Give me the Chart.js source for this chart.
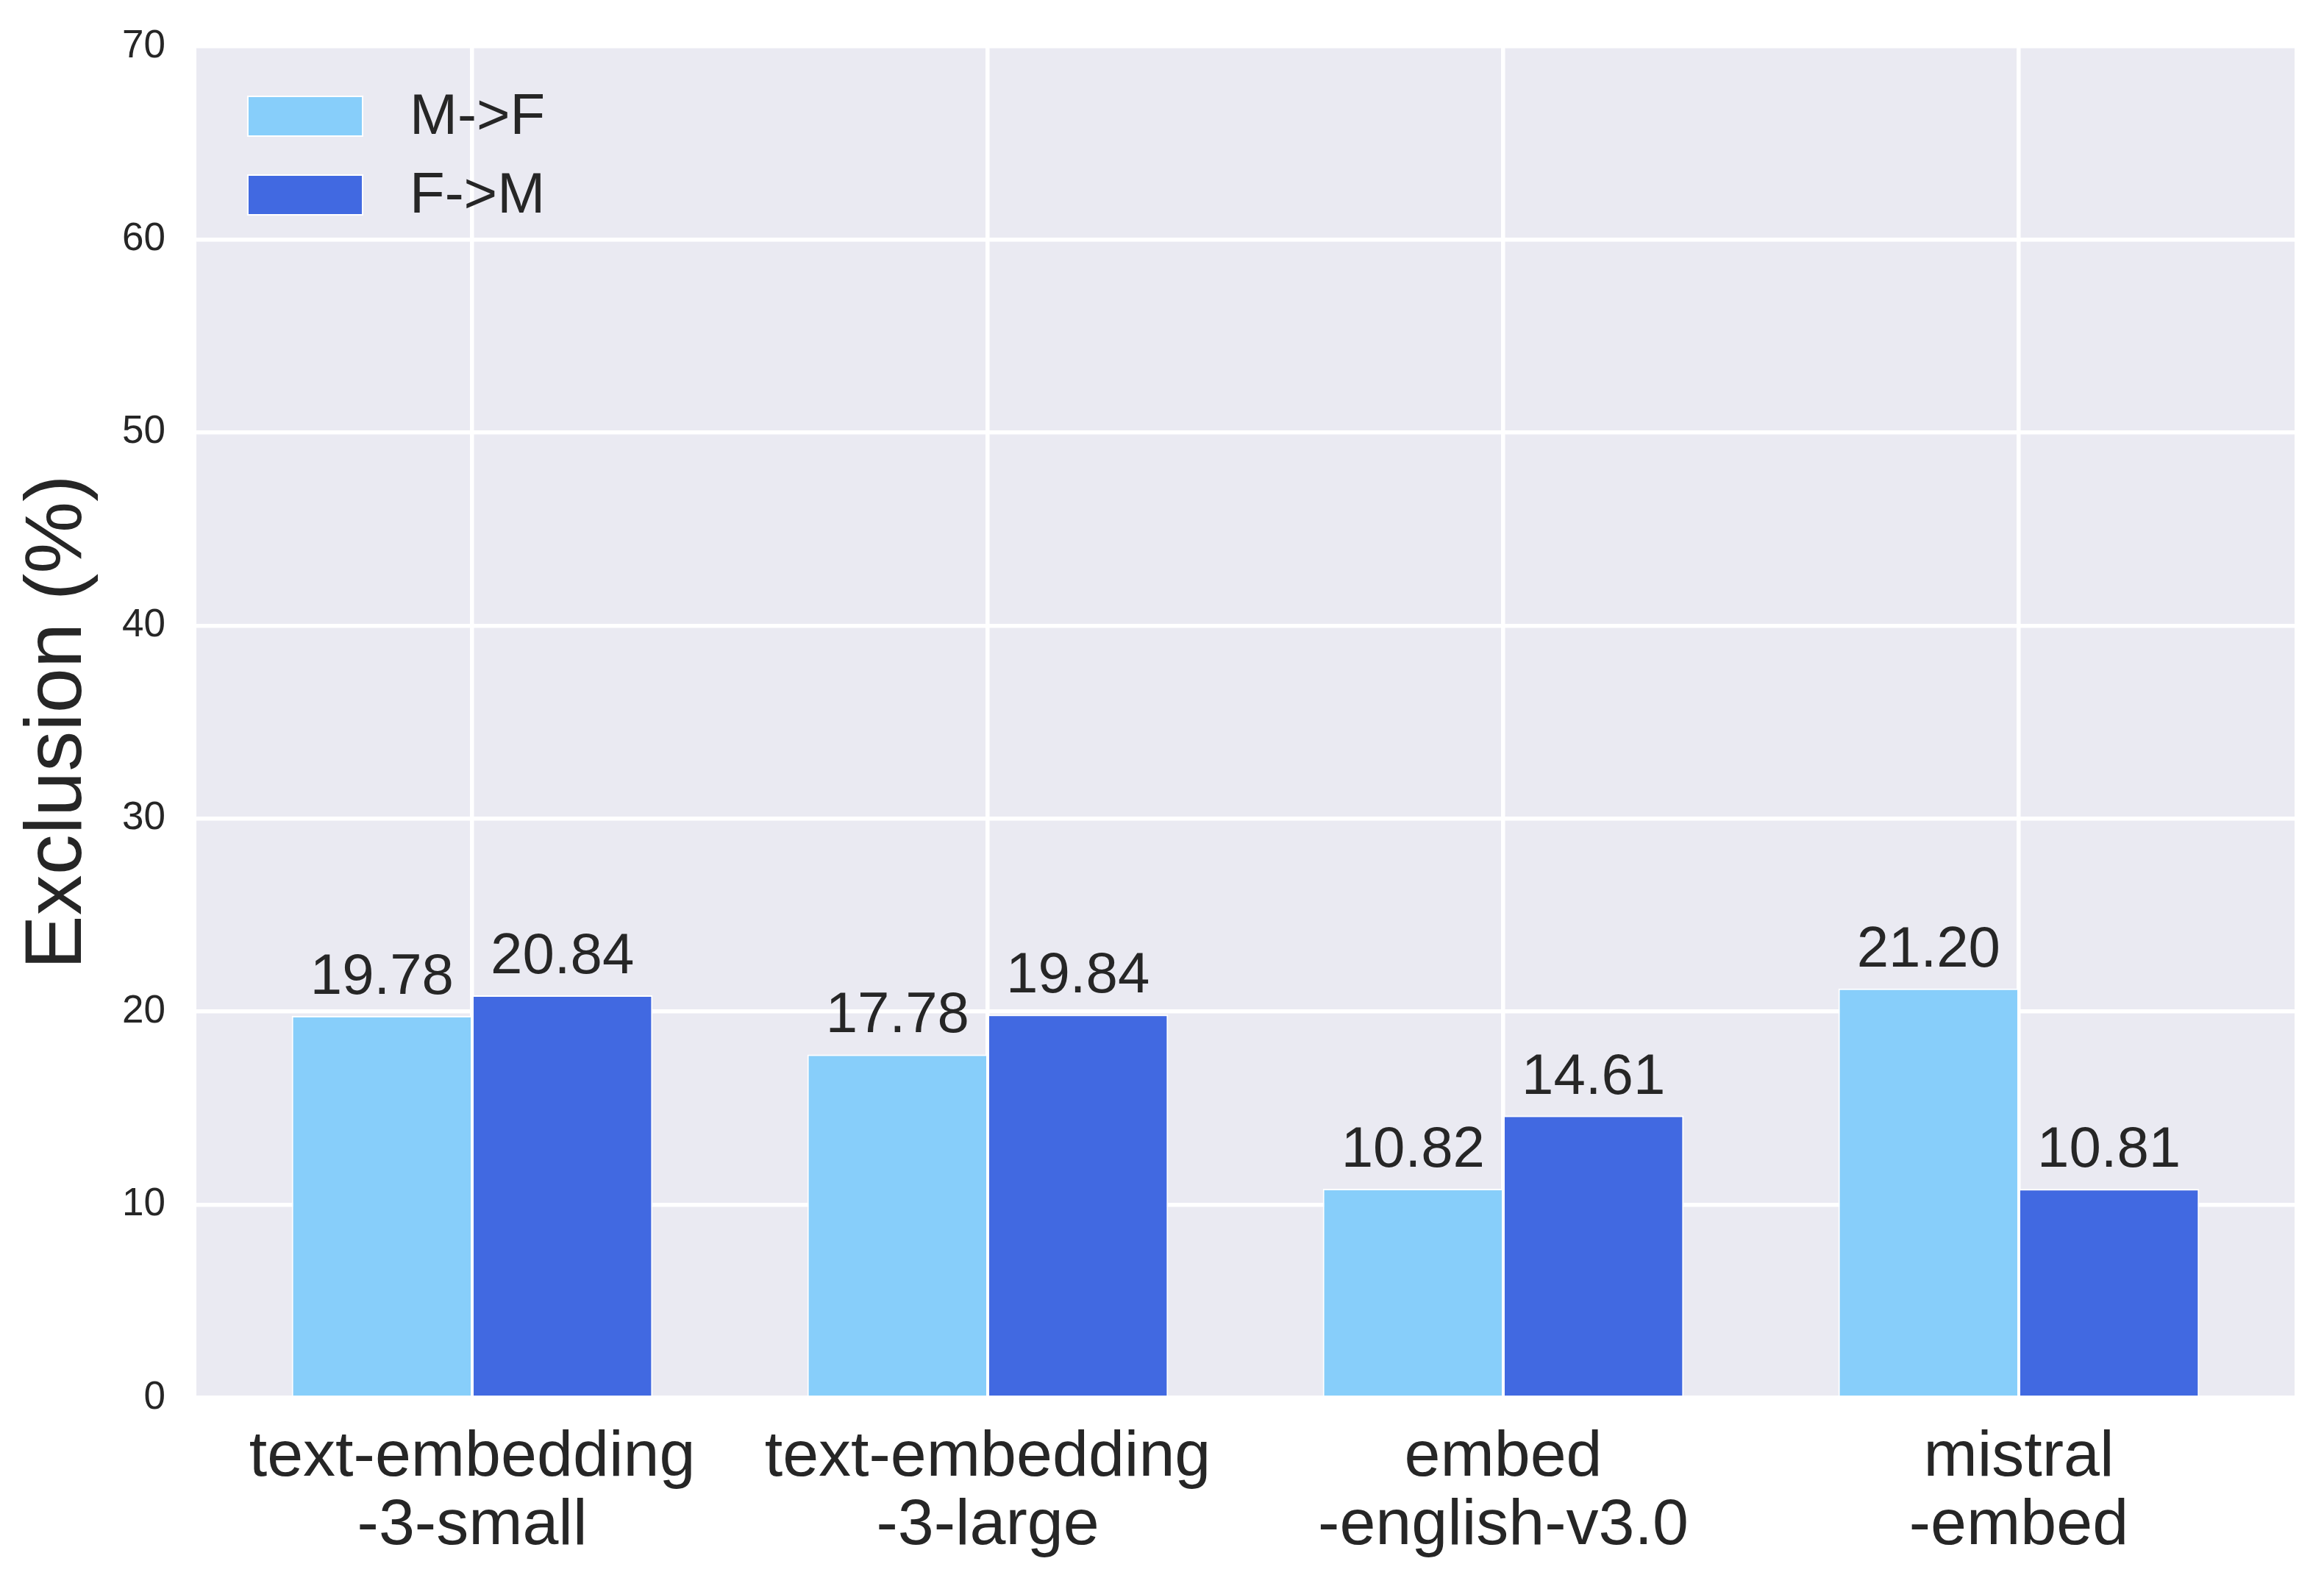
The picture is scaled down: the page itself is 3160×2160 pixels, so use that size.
<!DOCTYPE html>
<html>
<head>
<meta charset="utf-8">
<script src="https://cdn.jsdelivr.net/npm/chart.js@4"></script>
<style>
  html, body { margin: 0; padding: 0; background: #ffffff; }
  #chart { display: block; }
</style>
</head>
<body>
<canvas id="chart" width="3160" height="2160" style="width:3160px;height:2160px"></canvas>
<script>
// values
var models = ['text-embedding\n-3-small', 'text-embedding\n-3-large', 'embed\n-english-v3.0', 'mistral\n-embed'];
var seriesNames = ['M->F', 'F->M'];
var maleToFemale = [19.78, 17.78, 10.82, 21.20];
var femaleToMale = [20.84, 19.84, 14.61, 10.81];
var yTicks = [0, 10, 20, 30, 40, 50, 60, 70];

var lightBlue = '#87CEFA';
var royalBlue = '#4169E1';
var ink = '#262626';
var font = '"Liberation Sans", Arial, sans-serif';

function toPoints(values) {
    return values.map(function(v, i) { return { x: i, y: v }; });
}

// seaborn-like grey panel behind the plot
var panelBackground = {
    id: 'panelBackground',
    beforeDraw: function(chart) {
        var a = chart.chartArea, ctx = chart.ctx;
        ctx.save();
        ctx.fillStyle = '#EAEAF2';
        ctx.fillRect(a.left, a.top, a.right - a.left, a.bottom - a.top);
        ctx.restore();
    }
};

// numbers printed above each bar
var barValues = {
    id: 'barValues',
    afterDatasetsDraw: function(chart) {
        var ctx = chart.ctx;
        ctx.save();
        ctx.font = '78px ' + font;
        ctx.fillStyle = ink;
        ctx.textAlign = 'center';
        ctx.textBaseline = 'alphabetic';
        chart.data.datasets.forEach(function(ds, d) {
            chart.getDatasetMeta(d).data.forEach(function(bar, i) {
                ctx.fillText(ds.data[i].y.toFixed(2), bar.x, bar.y - 30);
            });
        });
        ctx.restore();
    }
};

// legend box in the upper-left corner of the panel
var innerLegend = {
    id: 'innerLegend',
    afterDatasetsDraw: function(chart) {
        var a = chart.chartArea, ctx = chart.ctx;
        ctx.save();
        ctx.font = '78px ' + font;
        ctx.textBaseline = 'middle';
        ctx.textAlign = 'left';
        chart.data.datasets.forEach(function(ds, d) {
            var top = a.top + 68 + d * 107;
            ctx.fillStyle = ds.backgroundColor;
            ctx.fillRect(a.left + 70, top, 156, 54);
            ctx.strokeStyle = '#ffffff';
            ctx.lineWidth = 2;
            ctx.strokeRect(a.left + 70, top, 156, 54);
            ctx.fillStyle = ink;
            ctx.fillText(ds.label, a.left + 290, top + 29);
        });
        ctx.restore();
    }
};

var ctx = document.getElementById('chart').getContext('2d');
var chart = new Chart(ctx, {
    type: 'bar',
    data: {
        datasets: [{
            label: seriesNames[0],
            data: toPoints(maleToFemale),
            backgroundColor: lightBlue,
            borderColor: '#ffffff',
            borderWidth: 2
        }, {
            label: seriesNames[1],
            data: toPoints(femaleToMale),
            backgroundColor: royalBlue,
            borderColor: '#ffffff',
            borderWidth: 2
        }]
    },
    options: {
        responsive: false,
        devicePixelRatio: 1,
        animation: false,
        categoryPercentage: 0.7,
        barPercentage: 1.0,
        layout: { padding: { top: 63, right: 40, bottom: 0, left: 0 } },
        scales: {
            x: {
                type: 'linear',
                min: -0.535,
                max: 3.535,
                offset: false,
                afterBuildTicks: function(scale) {
                    scale.ticks = models.map(function(m, i) { return { value: i }; });
                },
                afterFit: function(scale) {
                    scale.height = 260;
                    scale.paddingLeft = 0;
                    scale.paddingRight = 0;
                },
                grid: { color: '#ffffff', lineWidth: 5.5, drawTicks: false, offset: false },
                border: { display: false },
                ticks: {
                    autoSkip: false,
                    maxRotation: 0,
                    padding: 35,
                    color: ink,
                    font: { family: font, size: 88, lineHeight: 1.06 },
                    callback: function(value) { return models[value].split('\n'); }
                }
            },
            y: {
                min: 0,
                max: 70,
                afterBuildTicks: function(scale) {
                    scale.ticks = yTicks.map(function(v) { return { value: v }; });
                },
                afterFit: function(scale) {
                    scale.width = 267;
                    scale.paddingTop = 0;
                    scale.paddingBottom = 0;
                },
                grid: { color: '#ffffff', lineWidth: 5.5, drawTicks: false },
                border: { display: false },
                ticks: {
                    padding: 42,
                    color: ink,
                    font: { family: font, size: 53 }
                },
                title: {
                    display: true,
                    text: 'Exclusion (%)',
                    color: ink,
                    font: { family: font, size: 110, lineHeight: 1.2 },
                    padding: { top: 14, bottom: 0 }
                }
            }
        },
        plugins: {
            legend: { display: false },
            tooltip: { enabled: false }
        }
    },
    plugins: [panelBackground, barValues, innerLegend]
});
</script>
</body>
</html>
